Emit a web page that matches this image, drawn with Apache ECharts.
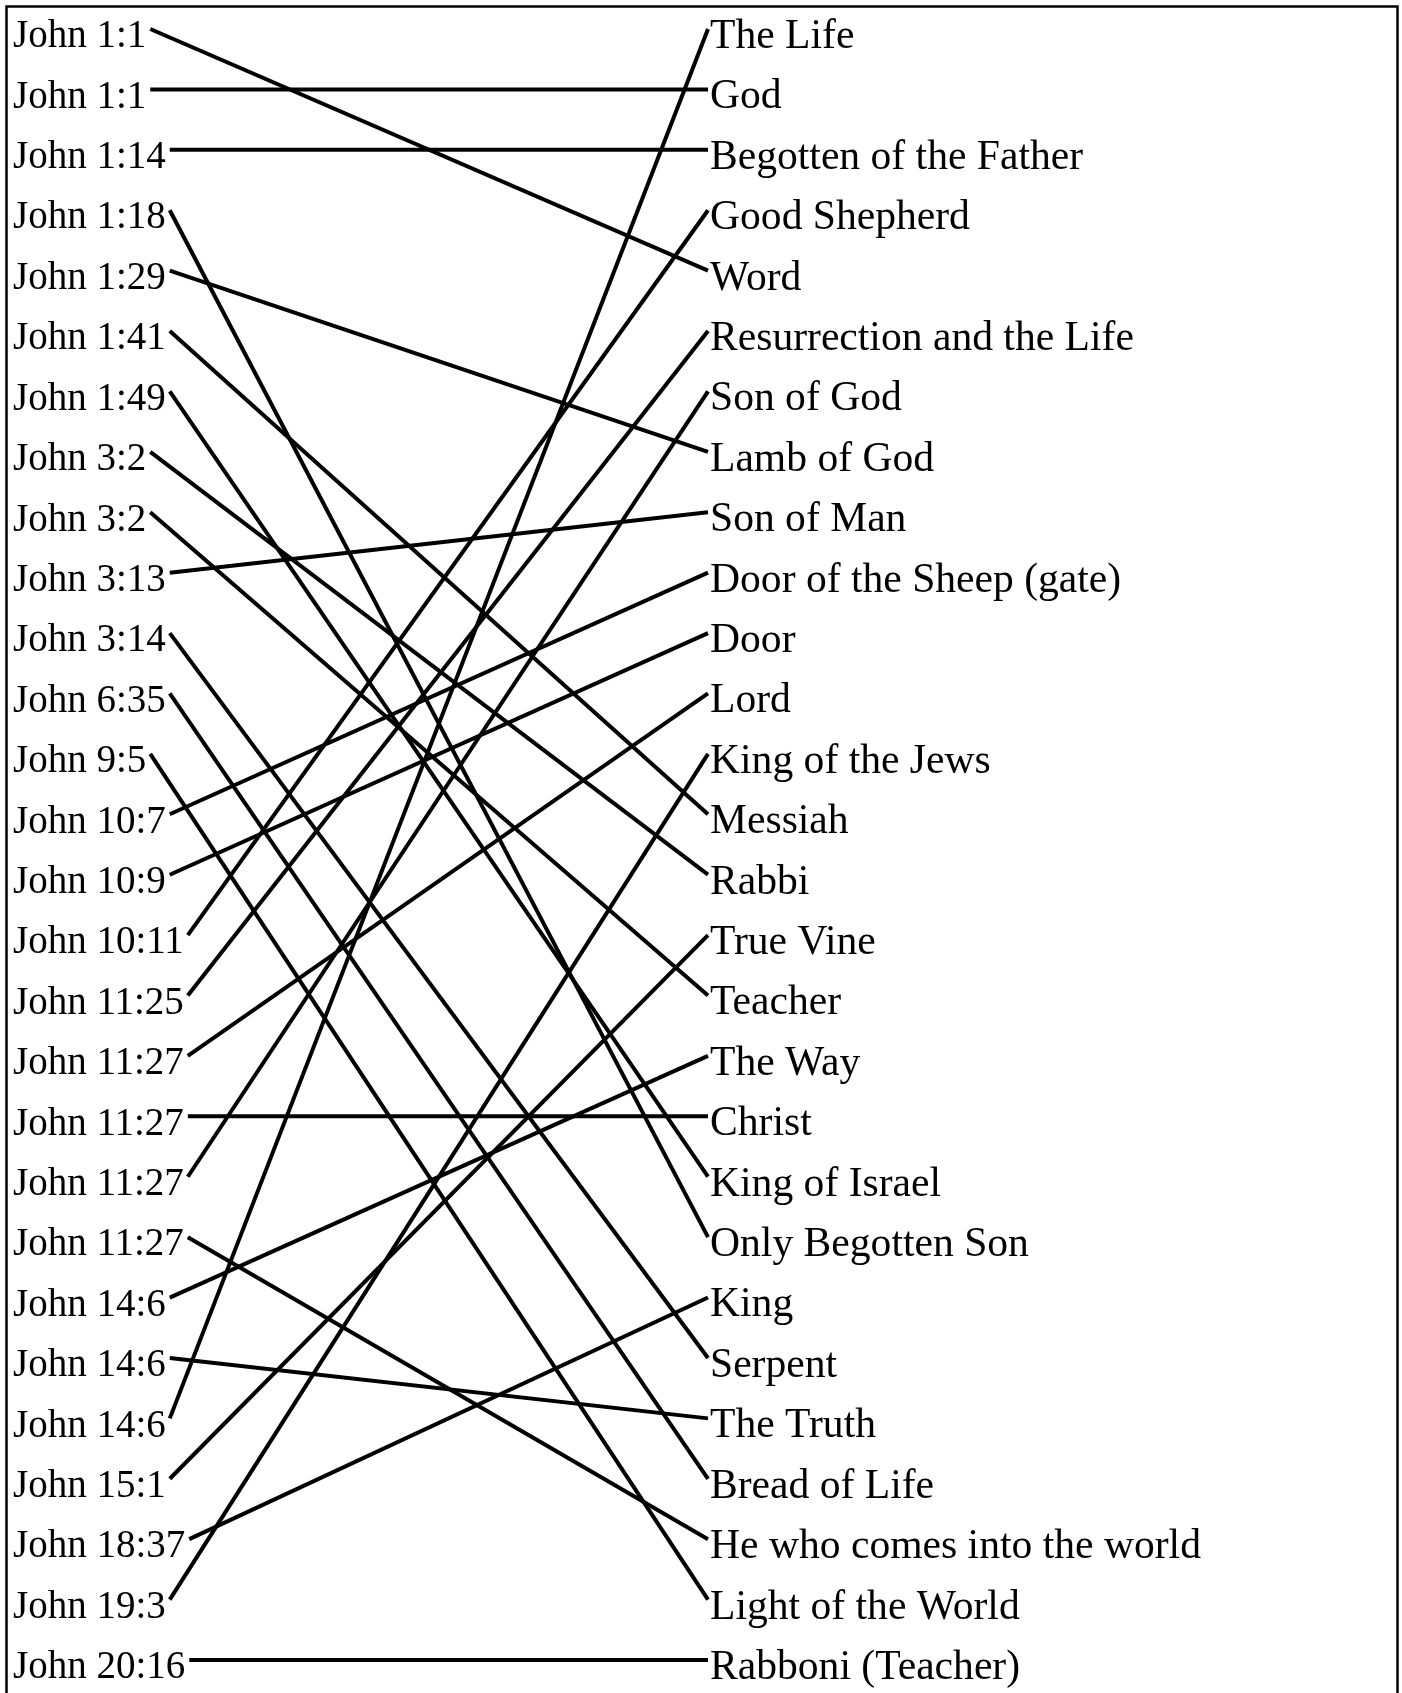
<!DOCTYPE html>
<html>
<head>
<meta charset="utf-8">
<script src="https://cdn.jsdelivr.net/npm/echarts@6/dist/echarts.min.js"></script>
<style>
    html, body { margin: 0; padding: 0; background: #ffffff; }
    #main { width: 1402px; height: 1693px; }
</style>
</head>
<body>
<div id="main"></div>
<script>
// left column: verses
var verses = [
    'John 1:1', 'John 1:1', 'John 1:14', 'John 1:18', 'John 1:29', 'John 1:41', 'John 1:49',
    'John 3:2', 'John 3:2', 'John 3:13', 'John 3:14', 'John 6:35', 'John 9:5', 'John 10:7',
    'John 10:9', 'John 10:11', 'John 11:25', 'John 11:27', 'John 11:27', 'John 11:27', 'John 11:27',
    'John 14:6', 'John 14:6', 'John 14:6', 'John 15:1', 'John 18:37', 'John 19:3', 'John 20:16'
];

// right column: names
var titles = [
    'The Life', 'God', 'Begotten of the Father', 'Good Shepherd', 'Word',
    'Resurrection and the Life', 'Son of God', 'Lamb of God', 'Son of Man',
    'Door of the Sheep (gate)', 'Door', 'Lord', 'King of the Jews', 'Messiah', 'Rabbi',
    'True Vine', 'Teacher', 'The Way', 'Christ', 'King of Israel', 'Only Begotten Son',
    'King', 'Serpent', 'The Truth', 'Bread of Life', 'He who comes into the world',
    'Light of the World', 'Rabboni (Teacher)'
];

// index in titles for every verse
var verseTarget = [4, 1, 2, 20, 7, 13, 19, 14, 16, 8, 22, 24, 26, 9, 10, 3, 5, 11, 18, 6, 25, 17, 23, 0, 15, 21, 12, 27];

var leftFont = '39px "Liberation Serif"';
var rightFont = '41.6px "Liberation Serif"';

// measure text width so the line starts right after the verse
var measureCtx = document.createElement('canvas').getContext('2d');
function textWidth(text, font) {
    measureCtx.font = font;
    return measureCtx.measureText(text).width;
}

var linkData = verses.map(function (v, i) {
    return [i, verseTarget[i]];
});

function renderLink(params, api) {
    var i = api.value(0);
    var j = api.value(1);
    var pL = api.coord([0, i]);
    var pR = api.coord([1, j]);
    var w = textWidth(verses[i], leftFont);
    return {
        type: 'group',
        children: [
            {
                type: 'text',
                x: pL[0],
                y: pL[1] + 3,
                style: { text: verses[i], font: leftFont, fill: '#000', verticalAlign: 'middle', align: 'left' }
            },
            {
                type: 'text',
                x: pR[0],
                y: pR[1] + 3,
                style: { text: titles[j], font: rightFont, fill: '#000', verticalAlign: 'middle', align: 'left' }
            },
            {
                type: 'line',
                shape: { x1: pL[0] + w + 4, y1: pL[1] - 5, x2: pR[0] - 2, y2: pR[1] - 5 },
                style: { stroke: '#000', lineWidth: 4 }
            }
        ]
    };
}

var chart = echarts.init(document.getElementById('main'));
chart.setOption({
    animation: false,
    backgroundColor: '#ffffff',
    grid: { left: 13, right: 692, top: 34, bottom: 28 },
    xAxis: { type: 'value', min: 0, max: 1, show: false },
    yAxis: { type: 'value', min: 0, max: 27, inverse: true, show: false },
    graphic: [{
        type: 'rect',
        shape: { x: 6.5, y: 6.5, width: 1391, height: 1730 },
        style: { fill: 'none', stroke: '#000', lineWidth: 2.5 }
    }],
    series: [{
        type: 'custom',
        clip: false,
        renderItem: renderLink,
        data: linkData
    }]
});
</script>
</body>
</html>
